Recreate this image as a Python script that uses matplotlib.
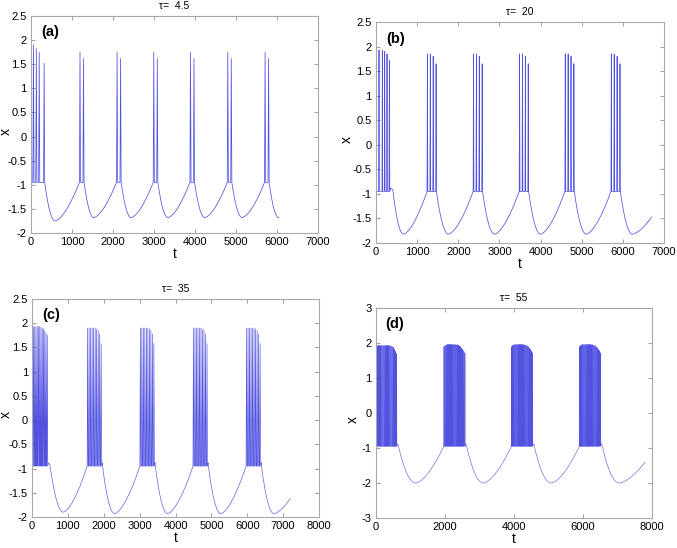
import numpy as np
import matplotlib.pyplot as plt
from matplotlib.ticker import FuncFormatter, MultipleLocator

plt.rcParams['font.family'] = ['Liberation Sans', 'DejaVu Sans']
plt.rcParams['axes.unicode_minus'] = False

LINE = '#3434dc'
TROUGH = -0.95

# ---- values ----
# (a) tau = 4.5
a_first_t = [5, 60, 130, 200, 320]
a_first_pk = [2.05, 1.9, 1.82, 1.75, 1.52]
a_onsets = [1195, 2100, 2995, 3890, 4800, 5710]
a_isi = 85
a_pk = [1.75, 1.62]
a_min_t = [585, 1530, 2440, 3340, 4240, 5150, 6040]
a_min_v = [-1.75, -1.68, -1.68, -1.68, -1.68, -1.68, -1.68]
a_end = (6050, -1.68)

# (b) tau = 20
b_first_t = [5, 73, 154, 211, 268, 325]
b_first_pk = [2.05, 1.93, 1.92, 1.9, 1.85, 1.72]
b_onsets = [1250, 2370, 3490, 4600, 5720]
b_isi = 70
b_pk = [1.85, 1.85, 1.8, 1.65]
b_min_t = [665, 1760, 2880, 4000, 5110, 6230]
b_min_v = [-1.82, -1.82, -1.82, -1.82, -1.82, -1.82]
b_end = (6700, -1.47)

# (c) tau = 35
c_first_t = [5, 40, 75, 110, 145, 180, 215, 250, 285, 320, 355, 390, 425]
c_first_pk = [2.05, 1.93, 1.93, 1.93, 1.93, 1.93, 1.93, 1.92, 1.9, 1.88, 1.85, 1.8, 1.75]
c_onsets = [1550, 3020, 4500, 5980]
c_isi = 42
c_pk = [1.9, 1.9, 1.9, 1.9, 1.9, 1.9, 1.88, 1.85, 1.78, 1.58]
c_min_t = [870, 2300, 3780, 5260, 6740]
c_min_v = [-1.9, -1.93, -1.93, -1.93, -1.93]
c_end = (7200, -1.62)

# (d) tau = 55
d_first_t = [5, 38, 71, 104, 137, 170, 203, 236, 269, 302, 335, 368, 401,
             434, 467, 500, 533, 566, 600]
d_first_pk = [2.05, 1.93, 1.93, 1.93, 1.93, 1.93, 1.93, 1.93, 1.93, 1.93,
              1.93, 1.93, 1.93, 1.92, 1.9, 1.88, 1.82, 1.76, 1.7]
d_onsets = [1970, 3930, 5900]
d_isi = 32
d_pk = [1.9, 1.93, 1.95, 1.96, 1.96, 1.96, 1.96, 1.96, 1.96, 1.96,
        1.96, 1.95, 1.95, 1.94, 1.92, 1.9, 1.86, 1.82, 1.78, 1.72]
d_min_t = [1150, 3110, 5080, 7050]
d_min_v = [-2.0, -2.0, -2.0, -2.0]
d_end = (7800, -1.4)


def build(first_t, first_pk, onsets, isi, pk, min_t, min_v, end, w, plateau):
    bursts = [list(first_t)] + [[o + isi * k for k in range(len(pk))] for o in onsets]
    peaks = [list(first_pk)] + [list(pk)] * len(onsets)
    tt, xx = [0.0], [0.0]
    for i, (st, pks) in enumerate(zip(bursts, peaks)):
        for s, p in zip(st, pks):
            tt += [s - w, s, s + w]
            xx += [TROUGH, p, TROUGH]
        t0, v0 = st[-1] + w, TROUGH
        if plateau[i] > 0:
            tt += [t0 + 20, t0 + plateau[i]]
            xx += [-0.88, -0.92]
            t0, v0 = t0 + plateau[i], -0.92
        # fall to the minimum of the quiet phase
        tm, vm = min_t[i], min_v[i]
        s = np.linspace(0, 1, 80)
        tt += list(t0 + (tm - t0) * s)
        xx += list(vm + (v0 - vm) * (1 - s) ** 2)
        # slow recovery towards the next burst (or the end of the run)
        if i + 1 < len(bursts):
            t1, v1 = bursts[i + 1][0] - w, TROUGH
        else:
            t1, v1 = end
        tt += list(tm + (t1 - tm) * s)
        xx += list(vm + (v1 - vm) * s ** 1.6)
    return np.array(tt), np.array(xx)


panels = [
    dict(rect=[0.0458, 0.5748, 0.4239, 0.396], title='\u03c4=  4.5', tag='(a)',
         xlim=7000, xstep=1000, ylim=(-2, 2.5), ystep=0.5, ylab=-0.088, lw=0.55,
         data=build(a_first_t, a_first_pk, a_onsets, a_isi, a_pk, a_min_t, a_min_v,
                    a_end, 14, [0] * 7)),
    dict(rect=[0.5554, 0.5566, 0.4254, 0.4033], title='\u03c4=  20', tag='(b)',
         xlim=7000, xstep=1000, ylim=(-2, 2.5), ystep=0.5, ylab=-0.1, lw=0.55,
         data=build(b_first_t, b_first_pk, b_onsets, b_isi, b_pk, b_min_t, b_min_v,
                    b_end, 9, [75] + [0] * 5)),
    dict(rect=[0.0473, 0.0566, 0.4239, 0.3978], title='\u03c4=  35', tag='(c)',
         xlim=8000, xstep=1000, ylim=(-2, 2.5), ystep=0.5, ylab=-0.09, lw=0.45,
         data=build(c_first_t, c_first_pk, c_onsets, c_isi, c_pk, c_min_t, c_min_v,
                    c_end, 13, [60] + [20] * 4)),
    dict(rect=[0.5554, 0.0547, 0.4077, 0.3832], title='\u03c4=  55', tag='(d)',
         xlim=8000, xstep=2000, ylim=(-3, 3), ystep=1, ylab=-0.085, lw=0.4,
         data=build(d_first_t, d_first_pk, d_onsets, d_isi, d_pk, d_min_t, d_min_v,
                    d_end, 4, [40] * 4)),
]

fig = plt.figure(figsize=(6.77, 5.48), dpi=100)
fmt = FuncFormatter(lambda v, p: '%g' % v)
for pn in panels:
    ax = fig.add_axes(pn['rect'])
    t, x = pn['data']
    ax.plot(t, x, color=LINE, lw=pn['lw'], alpha=0.85)
    ax.set_xlim(0, pn['xlim'])
    ax.set_ylim(*pn['ylim'])
    ax.xaxis.set_major_locator(MultipleLocator(pn['xstep']))
    ax.yaxis.set_major_locator(MultipleLocator(pn['ystep']))
    ax.xaxis.set_major_formatter(fmt)
    ax.yaxis.set_major_formatter(fmt)
    ax.tick_params(direction='in', top=True, right=True, length=3, width=0.6,
                   color='#909090', labelsize=8, pad=3)
    for sp in ax.spines.values():
        sp.set_color('#a8a8a8')
        sp.set_linewidth(0.8)
    ax.set_title(pn['title'], fontsize=7.5, pad=5)
    ax.set_xlabel('t', fontsize=10, labelpad=0)
    ax.set_ylabel('x', fontsize=10, va='center')
    ax.yaxis.set_label_coords(pn['ylab'], 0.47)
    ax.text(0.035, 0.925, pn['tag'], transform=ax.transAxes, fontsize=10.5,
            fontweight='bold', va='center', ha='left')

fig.savefig('out.png', dpi=100)
